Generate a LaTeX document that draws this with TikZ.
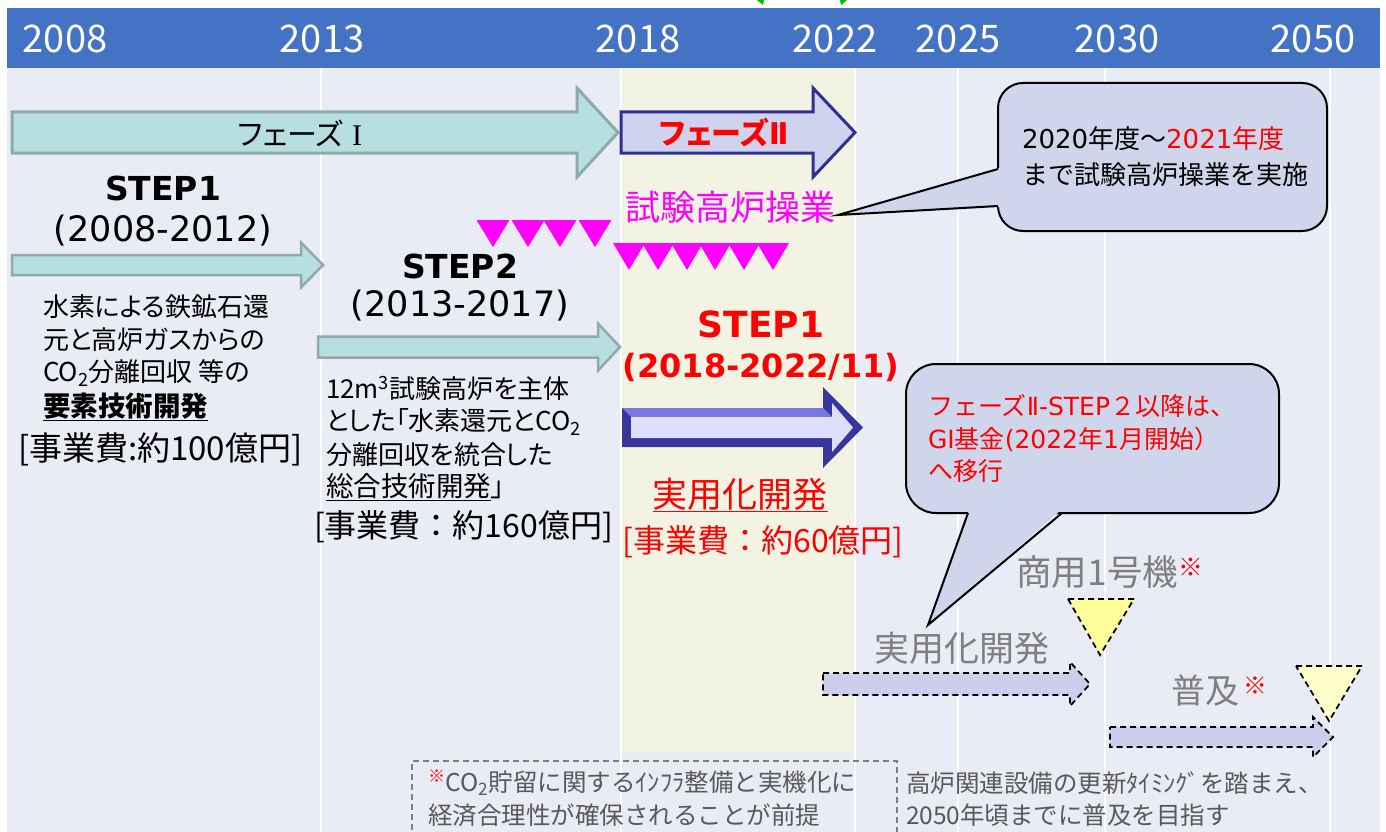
\documentclass[tikz,border=0pt]{standalone}
\usepackage{fontspec}
\setmainfont{DejaVu Sans}
\newfontfamily\jp[RawFeature=+palt]{Noto Sans CJK JP}
\newfontfamily\jpn{Noto Sans CJK JP}
\newfontfamily\serifI{Liberation Serif}
\definecolor{hdrblue}{HTML}{4472C4}
\definecolor{bodybg}{HTML}{E9EBF5}
\definecolor{bandyel}{HTML}{F2F3E3}
\definecolor{tealfill}{HTML}{B7DEE1}
\definecolor{tealline}{HTML}{8FAAAA}
\definecolor{navy}{HTML}{2E3192}
\definecolor{navydk}{HTML}{36369C}
\definecolor{midpurple}{HTML}{7878E0}
\definecolor{lightlav}{HTML}{DEDFFA}
\definecolor{p2fill}{HTML}{D0D3EE}
\definecolor{callfill}{HTML}{CFD5EA}
\definecolor{dashfill}{HTML}{CDCEEC}
\definecolor{mag}{HTML}{FF00FF}
\definecolor{redtxt}{HTML}{FF0000}
\definecolor{greytxt}{HTML}{7F7F7F}
\definecolor{dkgrey}{HTML}{595959}
\definecolor{yelA}{HTML}{FFFF99}
\definecolor{yelB}{HTML}{FFFFCC}
\definecolor{grn}{HTML}{00C000}
\newcommand\fsz[2]{\fontsize{#1}{#2}\selectfont}
\newcommand\lat[1]{{\rmfamily #1}}
% style, x start, x head base, x tip, y centre, half shaft, half head
\newcommand\myarrow[7]{%
  \path[#1] (#2,{#5-#6}) -- (#3,{#5-#6}) -- (#3,{#5-#7}) -- (#4,#5)
    -- (#3,{#5+#7}) -- (#3,{#5+#6}) -- (#2,{#5+#6}) -- cycle;}
\begin{document}
\begin{tikzpicture}[x=1pt,y=-1pt,
  every node/.style={inner sep=0pt,outer sep=0pt},
  hdr/.style={text=white,font=\jp\fsz{38}{40}},
  tealarr/.style={fill=tealfill,draw=tealline,line width=3pt},
  phasetwo/.style={fill=p2fill,draw=navy,line width=3pt},
  dasharr/.style={fill=dashfill,draw=black,line width=1.8pt,dash pattern=on 6pt off 4pt},
  ytri/.style={draw=black,line width=1.8pt,dash pattern=on 6pt off 4pt},
  callbox/.style={fill=callfill,draw=black,line width=2pt,align=left},
  stepbig/.style={font=\bfseries\fsz{33}{36}},
  yearsm/.style={font=\fsz{35}{38}},
  body/.style={anchor=west,font=\jp\fsz{26}{30}},
  cost/.style={anchor=west,font=\jpn\fsz{32}{36}},
  greylab/.style={text=greytxt,font=\jp\fsz{34}{38}},
  foot/.style={anchor=west,text=dkgrey,font=\jpn\fsz{24.5}{28}}]
\useasboundingbox (0,0) rectangle (1386,832);
\fill[white] (0,0) rectangle (1386,832);
% body and band
\fill[bodybg] (7,68) rectangle (1380,832);
\fill[bandyel] (621,68) rectangle (855,753);
\foreach \x in {321,621,855,958,1105,1330}
  \draw[white,line width=2pt] (\x,68) -- (\x,832);
% header
\fill[hdrblue] (7,8) rectangle (1380,68);
\fill[grn] (757,0) -- (764,0) -- (763,5) -- cycle;
\fill[grn] (840,0) -- (847,0) -- (841,5) -- cycle;
\foreach \yr/\x in {2008/65,2013/322,2018/638,2022/835,2025/958,2030/1117,2050/1313}
  \node[hdr] (yr\yr) at (\x,39) {\yr};
% phase arrows
\myarrow{tealarr}{12}{577}{618}{132.5}{20.5}{44.5}
\myarrow{phasetwo}{621}{813}{855}{132.5}{20.5}{44.5}
\node[font=\jp\fsz{30}{32}] (ph1) at (300,133) {フェーズ\hspace{9pt}{\serifI I}};
\node[text=redtxt,font=\jp\bfseries\fsz{30}{32}] (ph2) at (724,133) {フェーズ\lat{\bfseries Ⅱ}};
% step arrows
\myarrow{tealarr,line width=2.5pt}{12}{301}{323}{265}{10}{22.5}
\myarrow{tealarr,line width=2.5pt}{318}{598}{620}{347}{10.5}{23.5}
% big navy arrow
\myarrow{fill=navydk}{622}{823}{863}{427.5}{19.5}{40.5}
\fill[midpurple] (622,408) -- (823,408) -- (832,417) -- (631,417) -- cycle;
\myarrow{fill=lightlav}{631}{832}{853}{427.5}{10.5}{24.5}
% trial furnace markers
\foreach \t in {493,528,560,595}
  \fill[mag] (\t-16.5,220) -- (\t+16.5,220) -- (\t,247) -- cycle;
\foreach \t in {629,658,687,715,744,773}
  \fill[mag] (\t-16,243) -- (\t+16,243) -- (\t,270) -- cycle;
\node[text=mag,font=\jp\fsz{35}{38}] (trial) at (730,207) {試験高炉操業};
% callout 1
\node[callbox,rounded corners=25pt,minimum width=329pt,minimum height=148pt,
      text width=281pt,inner xsep=24pt,font=\jpn\fsz{26}{36}] (c1) at (1162.5,157)
  {\lat{2020}年度～\textcolor{redtxt}{\lat{2021}年度}\\まで試験高炉操業を実施};
\fill[callfill] (1000,168) -- (838,215) -- (1000,207) -- cycle;
\draw[line width=2pt,line join=miter] (998,169) -- (838,215) -- (998,206);
% callout 2
\node[callbox,rounded corners=30pt,minimum width=373pt,minimum height=149pt,
      text width=329pt,inner xsep=22pt,text=redtxt,font=\jpn\fsz{25}{32.5}] (c2) at (1092.5,438.5)
  {フェーズ\lat{Ⅱ-STEP}２以降は、\\\lat{GI}基金\lat{(2022}年\lat{1}月開始）\\へ移行};
\fill[callfill] (969,510) -- (928,625) -- (1061,510) -- cycle;
\draw[line width=2pt,line join=miter] (968,513) -- (928,625) -- (1062,513);
% STEP labels
\node[stepbig] (s1) at (163,188) {STEP1};
\node[yearsm] (s1y) at (163,231) {(2008-2012)};
\node[stepbig] (s2) at (460,266) {STEP2};
\node[yearsm] (s2y) at (460,306) {(2013-2017)};
\node[text=redtxt,font=\bfseries\fsz{36}{40}] (s3) at (761,324) {STEP1};
\node[text=redtxt,font=\bfseries\fsz{32}{36}] (s3y) at (761,367) {(2018-2022/11)};
% left text block
\node[body] (l1) at (43,307) {水素による鉄鉱石還};
\node[body] (l2) at (43,340) {元と高炉ガスからの};
\node[body] (l3) at (43,373) {CO\textsubscript{2}分離回収 等の};
\node[body,font=\jp\bfseries\fsz{27.5}{30}] (l4) at (43,407) {\underline{要素技術開発}};
\node[cost,font=\jpn\fsz{33}{36}] (l5) at (18,449) {[事業費:約100億円]};
% middle text block
\node[body] (m1) at (326,388) {12m\textsuperscript{3}試験高炉を主体};
\node[body] (m2) at (326,422) {とした「水素還元とCO\textsubscript{2}};
\node[body] (m3) at (326,455) {分離回収を統合した};
\node[body,font=\jp\fsz{27.5}{30}] (m4) at (326,487) {\underline{総合技術開発}」};
\node[cost] (m5) at (314,527) {[事業費：約160億円]};
% practical development
\node[text=redtxt,font=\jp\fsz{35}{38}] (pd) at (740,495) {\underline{実用化開発}};
\node[text=redtxt,font=\jpn\fsz{32}{36}] (pdc) at (763,542) {[事業費：約60億円]};
% future
\node[greylab,font=\jp\fsz{35.5}{38}] (com) at (1110,572) {商用1号機\textsuperscript{\textcolor{redtxt}{※}}};
\draw[ytri,fill=yelA] (1068,599) -- (1134,599) -- (1100,655) -- cycle;
\node[greylab,font=\jp\fsz{35}{38}] (pd2) at (962,648) {実用化開発};
\myarrow{dasharr}{823}{1070}{1090}{684}{11}{22}
\node[greylab] (fuk) at (1220,691) {普及\hspace{4pt}\textsuperscript{\textcolor{redtxt}{※}}};
\draw[ytri,fill=yelB] (1296,666) -- (1362,666) -- (1329,721) -- cycle;
\myarrow{dasharr}{1110}{1313}{1333}{737}{10}{20}
% footnote box
\draw[greytxt,line width=1.5pt,dash pattern=on 6pt off 4pt] (412,840) -- (412,761) -- (897,761) -- (897,840);
\node[foot] (f1) at (428,783) {\textsuperscript{\textcolor{redtxt}{※}}CO\textsubscript{2}貯留に関するｲﾝﾌﾗ整備と実機化に};
\node[foot] (f2) at (428,815) {経済合理性が確保されることが前提};
\node[foot] (r1) at (906,783) {高炉関連設備の更新ﾀｲﾐﾝｸﾞを踏まえ、};
\node[foot] (r2) at (906,815) {2050年頃までに普及を目指す};
\end{tikzpicture}
\end{document}
